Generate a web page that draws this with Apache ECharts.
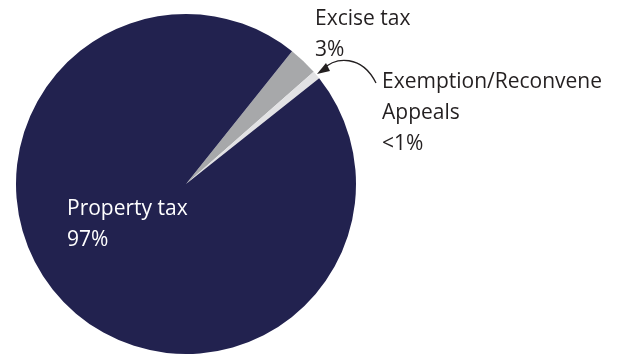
<!DOCTYPE html>
<html>
<head>
<meta charset="utf-8">
<script src="https://cdn.jsdelivr.net/npm/echarts@6/dist/echarts.min.js"></script>
<style>
  html, body { margin: 0; padding: 0; background: #fff; }
  #chart { width: 634px; height: 362px; }
</style>
</head>
<body>
<div id="chart"></div>
<script>
// slices, in drawing order (clockwise from the top-right edge)
var names = ['Excise tax', 'Exemption/Reconvene\nAppeals', 'Property tax'];
var values = [2.8, 0.8, 96.4];
var shownPct = ['3%', '<1%', '97%'];
var colors = ['#a7a8aa', '#e2e2e4', '#22224f'];

// where each label sits (top-left corner of the text block)
var labelPos = [[315, 4], [382, 67], [67, 194]];
var labelColor = ['#231f20', '#231f20', '#ffffff'];
var labelPlace = ['outside', 'outside', 'inside'];

var chart = echarts.init(document.getElementById('chart'));

var seriesData = names.map(function (n, i) {
  return {
    name: n,
    value: values[i],
    itemStyle: { color: colors[i] },
    label: { color: labelColor[i], position: labelPlace[i] }
  };
});

chart.setOption({
  animation: false,
  series: [{
    type: 'pie',
    center: [186, 184],
    radius: [0, 170],
    startAngle: 51.4,
    clockwise: true,
    silent: true,
    avoidLabelOverlap: false,
    data: seriesData,
    itemStyle: { borderWidth: 0 },
    label: {
      show: true,
      fontFamily: 'Open Sans',
      fontSize: 21,
      lineHeight: 31,
      formatter: function (p) {
        return p.name + '\n' + shownPct[p.dataIndex];
      }
    },
    labelLine: { show: false },
    labelLayout: function (p) {
      var pos = labelPos[p.dataIndex];
      return { x: pos[0], y: pos[1], align: 'left', verticalAlign: 'top' };
    }
  }],
  graphic: [{
    // curved pointer to the thin slice
    type: 'bezierCurve',
    shape: { x1: 376, y1: 83, x2: 322, y2: 70, cpx1: 362, cpy1: 55, cpx2: 336, cpy2: 56 },
    style: { stroke: '#231f20', lineWidth: 1.3, fill: null }
  }, {
    type: 'polygon',
    shape: { points: [[317, 74], [326, 63], [330, 71]] },
    style: { fill: '#231f20' }
  }]
});
</script>
</body>
</html>
